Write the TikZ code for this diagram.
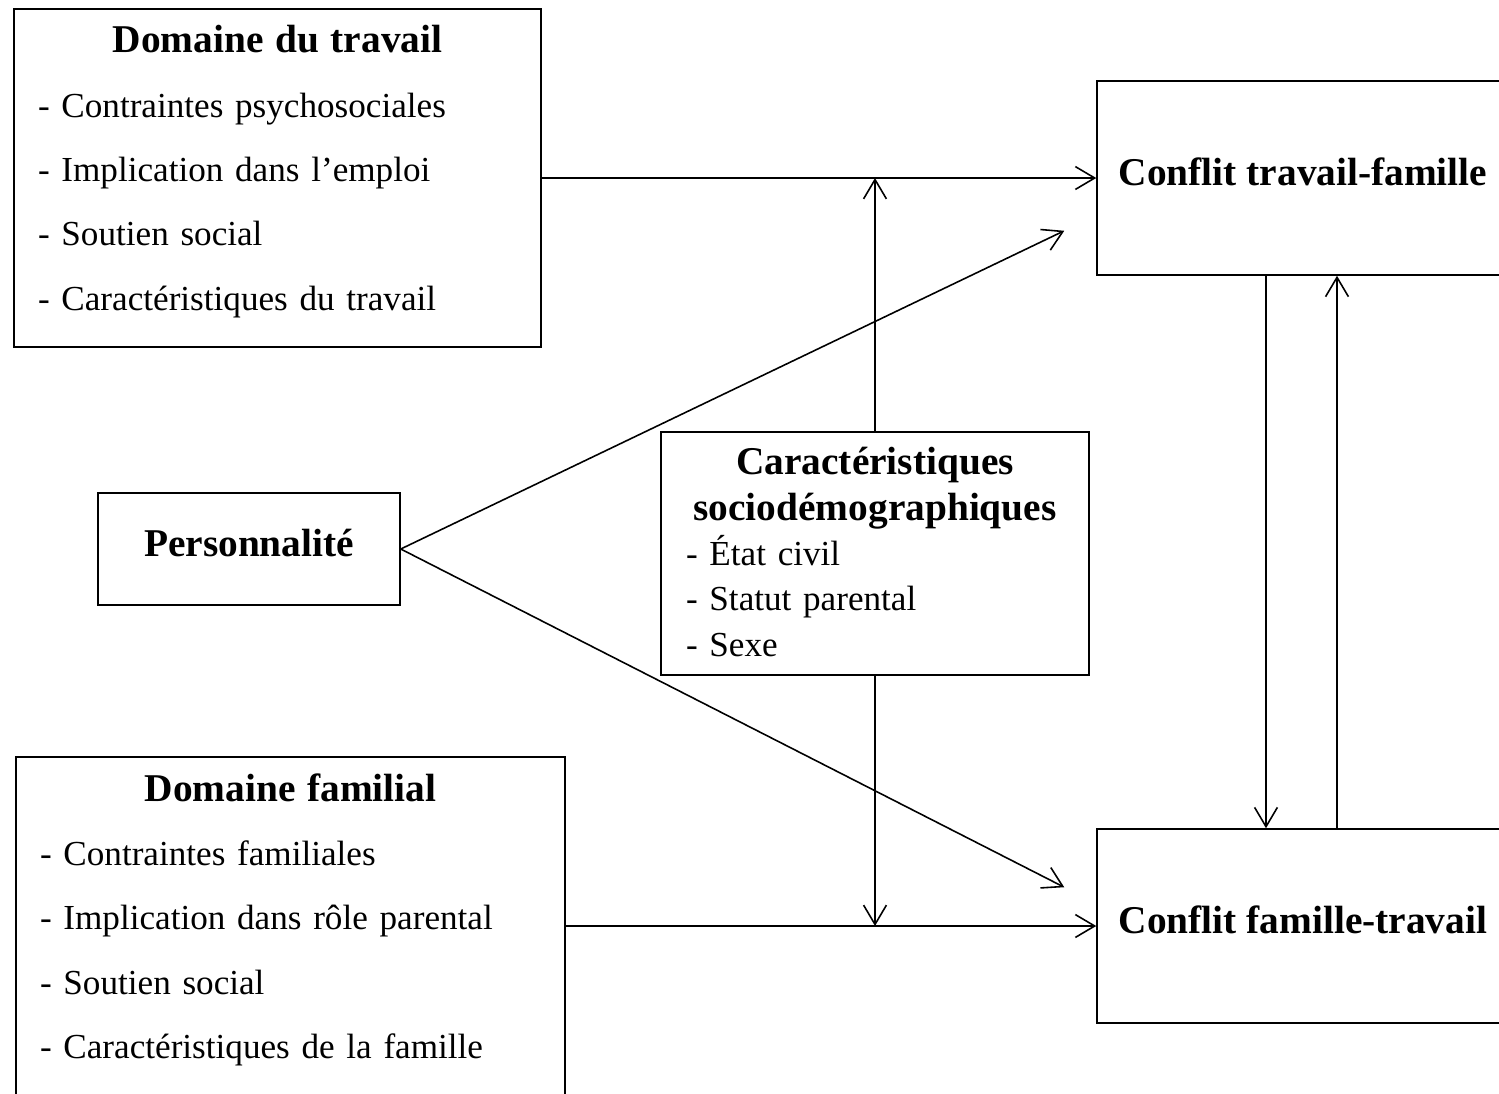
\documentclass[tikz,border=0pt]{standalone}
\usepackage{fontspec}
\setmainfont{Liberation Serif}
\usepackage{tikz}
\usetikzlibrary{arrows.meta, positioning}
\usetikzlibrary{calc}
\setlength{\parindent}{0pt}

\begin{document}
\begin{tikzpicture}[x=0.02cm, y=-0.02cm,
  cadre/.style={draw, line width=0.9pt, inner sep=0pt},
  titre/.style={font=\bfseries\fontsize{22.4}{26}\selectfont, text height=15pt, text depth=7pt},
  liste/.style={inner sep=0pt, anchor=north, font=\fontsize{20}{36.6}\selectfont},
  fleche/.style={line width=0.9pt, -{Straight Barb[length=11pt, width=13pt]}}]

  \useasboundingbox (0,0) rectangle (1499,1093);
  \clip (0,0) rectangle (1499,1093);

  % ==== Left: the two domains and personality ====

  % work domain
  \node[cadre, minimum width=10.54cm, minimum height=6.76cm] (travail) at (277.5,178) {};
  \node[liste, text width=9.58cm] (travailtxt) at ($(travail.north)+(0,17)$) {%
    {\centering\bfseries\fontsize{22.4}{36.6}\selectfont Domaine du travail\par}
    - Contraintes psychosociales\par
    - Implication dans l’emploi\par
    - Soutien social\par
    - Caractéristiques du travail};

  % personality
  \node[cadre, titre, minimum width=6.04cm, minimum height=2.24cm] (perso) at (249,549) {Personnalité};

  % family domain
  \node[cadre, minimum width=10.98cm, minimum height=7.2cm] (famille) at (290.5,937) {};
  \node[liste, text width=10.02cm] (familletxt) at ($(famille.north)+(0,17)$) {%
    {\centering\bfseries\fontsize{22.4}{36.6}\selectfont Domaine familial\par}
    - Contraintes familiales\par
    - Implication dans rôle parental\par
    - Soutien social\par
    - Caractéristiques de la famille};

  % ==== Middle: moderators ====
  \node[cadre, minimum width=8.56cm, minimum height=4.86cm] (socio) at (875,553.5) {};
  \node[liste, text width=7.56cm, font=\fontsize{20}{25.8}\selectfont] (sociotxt) at ($(socio.north)+(0,16)$) {%
    {\centering\bfseries\fontsize{22.4}{25.8}\selectfont Caractéristiques\\ sociodémographiques\par}
    - État civil\par
    - Statut parental\par
    - Sexe};

  % ==== Right: conflicts ====
  \node[cadre, titre, minimum width=8.24cm, minimum height=3.88cm] (ctf) at (1303,178) {Conflit travail-famille};
  \node[cadre, titre, minimum width=8.24cm, minimum height=3.88cm] (cft) at (1303,926) {Conflit famille-travail};

  % Direct effects
  \draw[fleche] (travail.east) -- (ctf.west);
  \draw[fleche] (famille.east |- cft.west) -- (cft.west);
  \draw[fleche] (perso.east) -- ($(ctf.south west)+(-32,-45)$);
  \draw[fleche] (perso.east) -- ($(cft.north west)+(-32,59)$);

  % Moderation
  \draw[fleche] (socio.north) -- (socio.north |- travail.east);
  \draw[fleche] (socio.south) -- (socio.south |- cft.west);

  % Reciprocal links
  \draw[fleche] ($(ctf.south)+(-37,0)$) -- ($(cft.north)+(-37,0)$);
  \draw[fleche] ($(cft.north)+(34,0)$) -- ($(ctf.south)+(34,0)$);
\end{tikzpicture}
\end{document}
